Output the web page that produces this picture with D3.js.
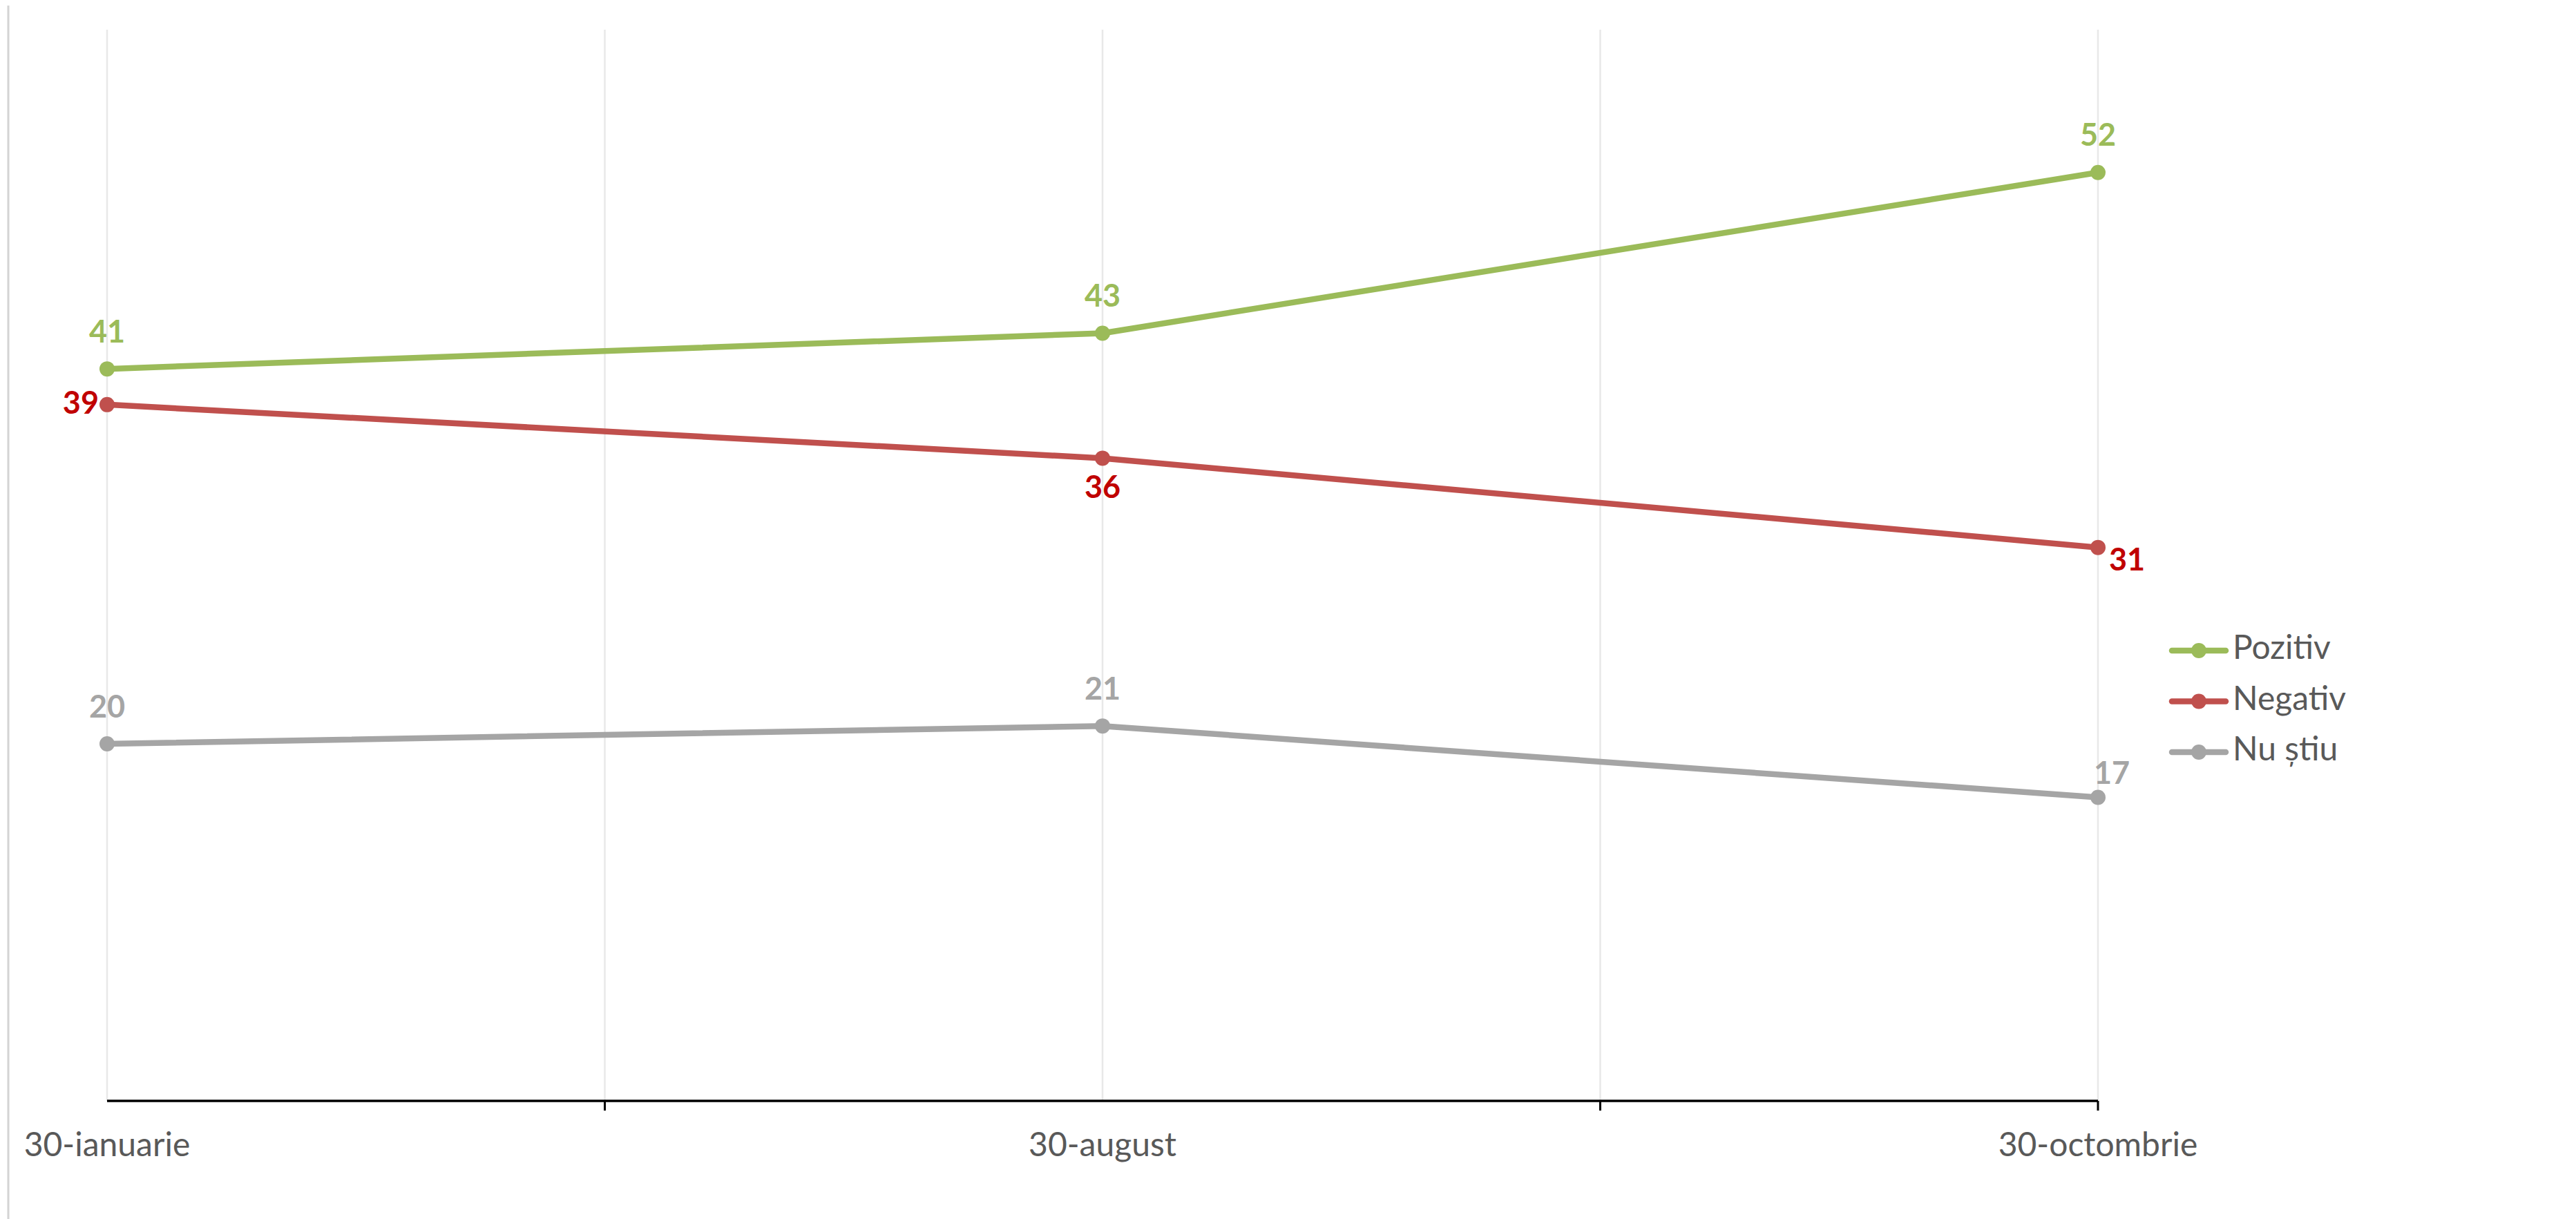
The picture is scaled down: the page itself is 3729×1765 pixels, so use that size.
<!DOCTYPE html>
<html>
<head>
<meta charset="utf-8">
<script src="https://cdn.jsdelivr.net/npm/d3@7"></script>
<style>
  html, body { margin: 0; padding: 0; background: #ffffff; }
  svg { display: block; }
  text { font-family: Lato, "Open Sans", sans-serif; }
</style>
</head>
<body>
<svg id="chart" width="3729" height="1765"></svg>
<script>
// ---- data ----
const categories = ["30-ianuarie", "30-august", "30-octombrie"];
const seriesNames = ["Pozitiv", "Negativ", "Nu știu"];
const pozitiv = [41, 43, 52];
const negativ = [39, 36, 31];
const nuStiu = [20, 21, 17];
const yDomain = [0, 60];

// ---- styles ----
const lineColors = ["#9BBB59", "#C0504D", "#A5A5A5"];
const labelColors = ["#9BBB59", "#C00000", "#A5A5A5"];
// label placement per series per point: [dx, dy, anchor]
const labelPos = [
  [[0, -50, "middle"], [0, -50, "middle"], [0, -50, "middle"]],
  [[-12, 2, "end"], [0, 46, "middle"], [16, 22, "start"]],
  [[0, -50, "middle"], [0, -50, "middle"], [20, -31, "middle"]]
];

const series = [pozitiv, negativ, nuStiu].map((vals, i) => ({
  name: seriesNames[i], values: vals, color: lineColors[i], labelColor: labelColors[i]
}));

const W = 3729, H = 1765;
const svg = d3.select("#chart");

const x = d3.scaleLinear().domain([0, categories.length - 1]).range([155, 3037]);
const y = d3.scaleLinear().domain(yDomain).range([1594, 43]);

// frame edge on left
svg.append("line")
  .attr("x1", 12).attr("x2", 12).attr("y1", 8).attr("y2", H)
  .attr("stroke", "#d4d4d4").attr("stroke-width", 3);

// vertical gridlines at half-category steps
const gridPos = d3.range(0, categories.length - 0.5 + 0.01, 0.5);
svg.append("g").selectAll("line").data(gridPos).join("line")
  .attr("x1", d => x(d)).attr("x2", d => x(d))
  .attr("y1", y(yDomain[1])).attr("y2", y(0))
  .attr("stroke", "#e8e8e8").attr("stroke-width", 2.5);

// x axis
const axisG = svg.append("g").attr("transform", `translate(0,${y(0)})`);
axisG.append("line")
  .attr("x1", x(0)).attr("x2", x(categories.length - 1))
  .attr("stroke", "#000").attr("stroke-width", 3.5);
const tickPos = [0.5, 1.5, 2];
axisG.selectAll("line.tick").data(tickPos).join("line")
  .attr("class", "tick")
  .attr("x1", d => x(d)).attr("x2", d => x(d))
  .attr("y1", 0).attr("y2", 14)
  .attr("stroke", "#000").attr("stroke-width", 3);
axisG.selectAll("text").data(categories).join("text")
  .attr("x", (d, i) => x(i)).attr("y", 80)
  .attr("text-anchor", "middle")
  .attr("fill", "#595959")
  .attr("font-size", 48)
  .text(d => d);

// lines
const line = d3.line().x((d, i) => x(i)).y(d => y(d));
const sg = svg.append("g").selectAll("g").data(series).join("g");
sg.append("path")
  .attr("d", d => line(d.values))
  .attr("fill", "none")
  .attr("stroke", d => d.color)
  .attr("stroke-width", 8.5)
  .attr("stroke-linejoin", "round");
sg.selectAll("circle").data(d => d.values.map(v => ({ v, c: d.color }))).join("circle")
  .attr("cx", (d, i) => x(i)).attr("cy", d => y(d.v))
  .attr("r", 11).attr("fill", d => d.c);

// data labels
sg.each(function (s, si) {
  d3.select(this).selectAll("text").data(s.values).join("text")
    .attr("x", (d, i) => x(i) + labelPos[si][i][0])
    .attr("y", (d, i) => y(d) + labelPos[si][i][1])
    .attr("text-anchor", (d, i) => labelPos[si][i][2])
    .attr("dominant-baseline", "middle")
    .attr("fill", s.labelColor)
    .attr("font-size", 45)
    .attr("font-weight", "bold")
    .text(d => d);
});

// legend
const legend = svg.append("g").attr("transform", "translate(3144,942)");
const li = legend.selectAll("g").data(series).join("g")
  .attr("transform", (d, i) => `translate(0,${i * 73.5})`);
li.append("line").attr("x1", 0).attr("x2", 78).attr("y1", 0).attr("y2", 0)
  .attr("stroke", d => d.color).attr("stroke-width", 8.5).attr("stroke-linecap", "round");
li.append("circle").attr("cx", 39).attr("cy", 0).attr("r", 11).attr("fill", d => d.color);
li.append("text").attr("x", 88).attr("y", 0)
  .attr("dominant-baseline", "middle")
  .attr("fill", "#595959").attr("font-size", 48)
  .text(d => d.name);
</script>
</body>
</html>
